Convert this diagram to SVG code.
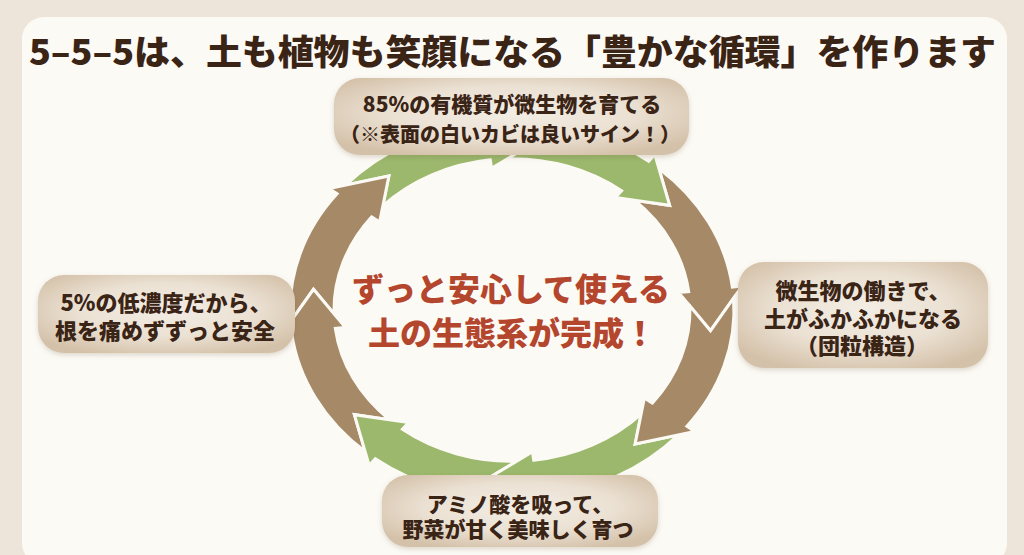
<svg xmlns="http://www.w3.org/2000/svg" width="1024" height="555" viewBox="0 0 1024 555">
<defs>
<radialGradient id="boxg" cx="50%" cy="45%" r="62%">
<stop offset="0" stop-color="#f3ede4"/>
<stop offset="0.55" stop-color="#ebe1d3"/>
<stop offset="1" stop-color="#d4c1a9"/>
</radialGradient>
<filter id="sh" x="-10%" y="-15%" width="120%" height="140%">
<feDropShadow dx="0" dy="2" stdDeviation="2.5" flood-color="#6b5236" flood-opacity="0.22"/>
</filter>
<path id="arw" vector-effect="non-scaling-stroke" d="M 218.23 -40.75 A 222 222 0 0 1 190.29 114.34 L 198.86 119.49 L 141.42 141.42 L 144.00 86.53 L 152.58 91.68 A 178 178 0 0 0 176.04 -26.32 L 200 0 Z"/>
</defs>
<style>
.brown{fill:#a68a68}
.green{fill:#9bb86c}
.arrow{stroke:#fcfaf5;stroke-width:3;stroke-linejoin:miter}
.box{fill:url(#boxg);filter:url(#sh)}
.lbl{font-family:"Noto Sans CJK JP","Noto Sans",sans-serif;font-weight:900;fill:#3a2416;text-anchor:middle}
.title{font-family:"Noto Sans CJK JP","Noto Sans",sans-serif;font-weight:900;fill:#3a2416;font-size:35px}
.center{font-family:"Noto Sans CJK JP","Noto Sans",sans-serif;font-weight:900;fill:#b4462d;text-anchor:middle;font-size:32px}
</style>
<rect x="0" y="0" width="1024" height="555" fill="#ede5d9"/>
<rect x="22" y="17" width="985" height="548" rx="22" fill="#fcfaf5"/>
<text class="title" x="29" y="64.5" textLength="967" lengthAdjust="spacingAndGlyphs">5–5–5は、土も植物も笑顔になる「豊かな循環」を作ります</text>
<g id="connectors" transform="translate(512 310) scale(1 0.85)">
<use href="#arw" class="arrow brown" transform="rotate(322)"/>
<use href="#arw" class="arrow green" transform="rotate(277)"/>
<use href="#arw" class="arrow green" transform="rotate(232)"/>
<use href="#arw" class="arrow brown" transform="rotate(187)"/>
<use href="#arw" class="arrow brown" transform="rotate(142)"/>
<use href="#arw" class="arrow green" transform="rotate(97)"/>
<use href="#arw" class="arrow green" transform="rotate(52)"/>
<use href="#arw" class="arrow brown" transform="rotate(7)"/>
</g>
<g id="node-top">
<rect class="box" x="334" y="78" width="355" height="77" rx="26"/>
<text class="lbl" x="512" y="111.5" font-size="21">85%の有機質が微生物を育てる</text>
<text class="lbl" x="510" y="141.5" font-size="20">（※表面の白いカビは良いサイン！）</text>
</g>
<g id="node-right">
<rect class="box" x="738" y="262" width="250" height="106" rx="26"/>
<text class="lbl" x="863" y="298.5" font-size="22">微生物の働きで、</text>
<text class="lbl" x="863" y="326.5" font-size="22">土がふかふかになる</text>
<text class="lbl" x="862" y="353.5" font-size="22">（団粒構造）</text>
</g>
<g id="node-bottom">
<rect class="box" x="382" y="475" width="276" height="72" rx="26"/>
<text class="lbl" x="520" y="511.5" font-size="21">アミノ酸を吸って、</text>
<text class="lbl" x="518" y="536.5" font-size="21">野菜が甘く美味しく育つ</text>
</g>
<g id="node-left">
<rect class="box" x="38" y="275" width="257" height="78" rx="26"/>
<text class="lbl" x="166" y="310.5" font-size="22">5%の低濃度だから、</text>
<text class="lbl" x="165" y="338.5" font-size="22">根を痛めずずっと安全</text>
</g>
<g id="center-text">
<text class="center" x="511" y="301">ずっと安心して使える</text>
<text class="center" x="512" y="345">土の生態系が完成！</text>
</g>
</svg>
